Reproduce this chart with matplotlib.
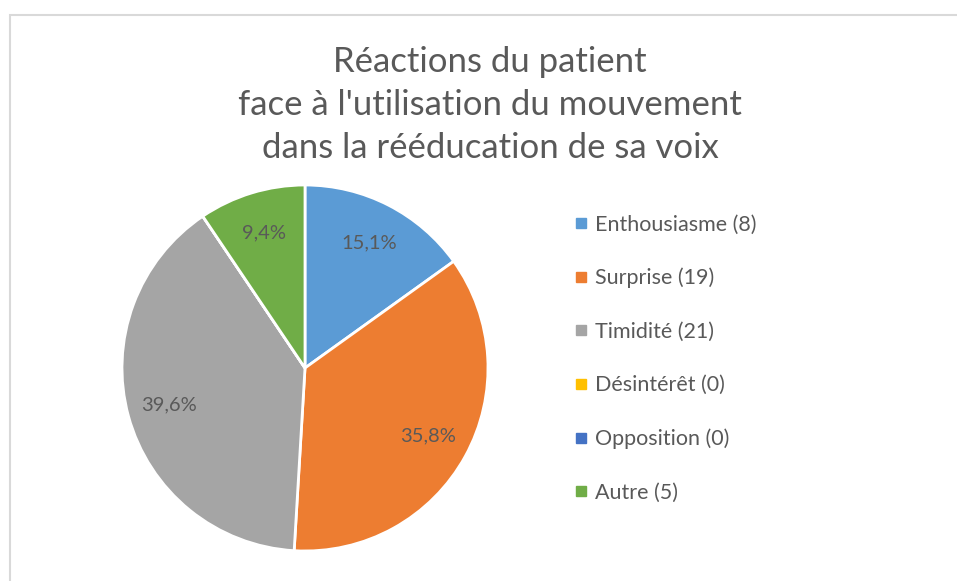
import matplotlib.pyplot as plt
from matplotlib.lines import Line2D
from matplotlib.patches import Rectangle

categories = ['Enthousiasme', 'Surprise', 'Timidité', 'Désintérêt', 'Opposition', 'Autre']
counts = [8, 19, 21, 0, 0, 5]
colors = ['#5B9BD5', '#ED7D31', '#A5A5A5', '#FFC000', '#4472C4', '#70AD47']
title = "Réactions du patient\nface à l'utilisation du mouvement\ndans la rééducation de sa voix"

plt.rcParams['font.family'] = ['Lato', 'DejaVu Sans']
text_color = '#595959'

W, H = 957, 581
fig = plt.figure(figsize=(W / 100, H / 100), dpi=100)

# light frame (right and bottom sides are cut off in the reference)
fig.patches.append(Rectangle((9.5 / W, -0.1), 1.2, (H - 14.5) / H + 0.1,
                             transform=fig.transFigure, fill=False,
                             edgecolor='#D9D9D9', linewidth=1.5))

cx, cy, r = 305, H - 368, 183
ax = fig.add_axes([(cx - r) / W, (cy - r) / H, 2 * r / W, 2 * r / H])

def fmt(p):
    return ('%.1f%%' % p).replace('.', ',') if p > 0 else ''

wedges, texts, autotexts = ax.pie(
        counts,
        colors=colors,
        startangle=90,
        counterclock=False,
        autopct=fmt,
        pctdistance=0.77,
        wedgeprops=dict(edgecolor='white', linewidth=2),
        textprops=dict(color=text_color, fontsize=14.5)
        )
ax.set_xlim(-1, 1)
ax.set_ylim(-1, 1)
ax.set_aspect('equal')

fig.text(490 / W, 1 - 105 / H, title, ha='center', va='center',
         fontsize=25, color=text_color, linespacing=1.42)

handles = [Line2D([], [], marker='s', linestyle='none', markersize=7,
                  markerfacecolor=c, markeredgecolor=c) for c in colors]
labels = ['%s (%d)' % (n, v) for n, v in zip(categories, counts)]
leg = fig.legend(handles, labels, loc='upper left',
                 bbox_to_anchor=(553 / W, 1 - 195 / H),
                 frameon=False, fontsize=15.5, labelspacing=1.55,
                 handlelength=0.8, handletextpad=0.25)
for t in leg.get_texts():
    t.set_color(text_color)

fig.savefig('out.png', dpi=100)
